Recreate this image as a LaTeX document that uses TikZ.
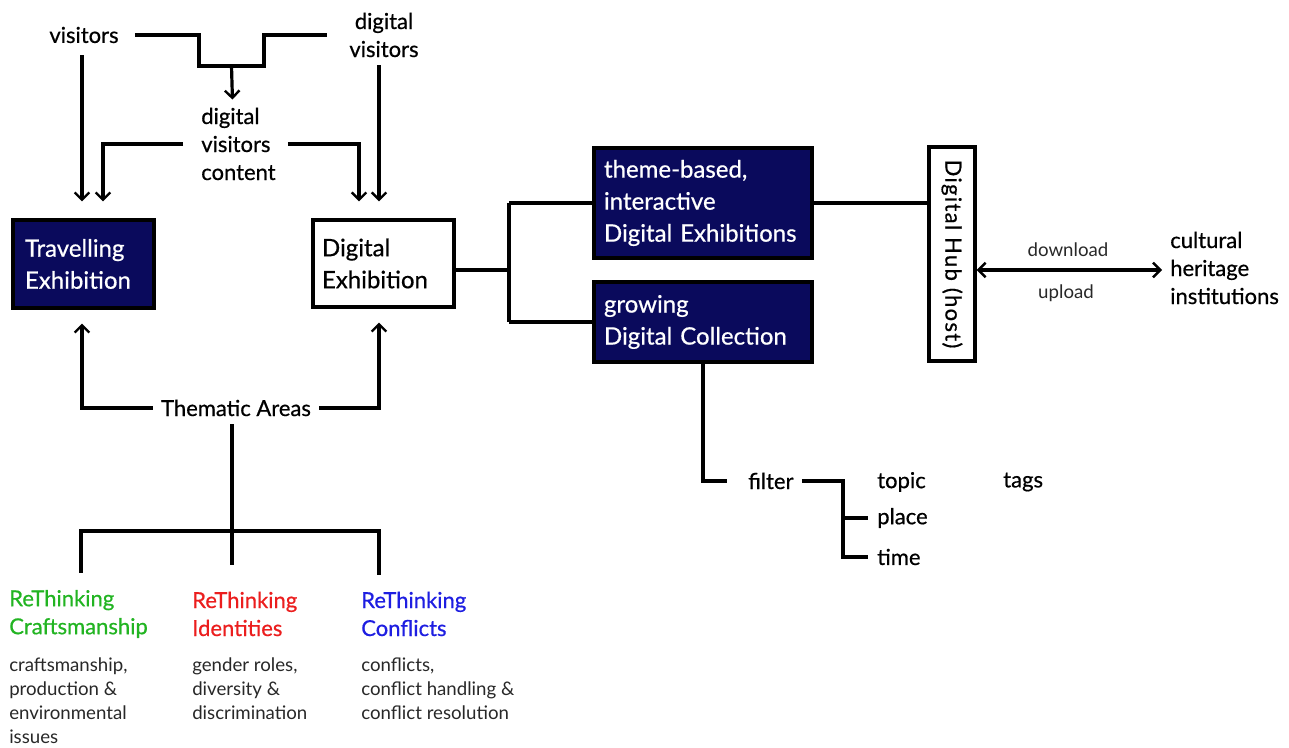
\documentclass[tikz,border=0pt]{standalone}
\usepackage{fontspec}
\setmainfont{Lato}
\newfontfamily\medfont{Lato}[FakeBold=0.6]
\usetikzlibrary{arrows.meta,calc}
\definecolor{navy}{RGB}{10,10,92}
\definecolor{tgreen}{RGB}{34,180,34}
\definecolor{tred}{RGB}{235,30,30}
\definecolor{tblue}{RGB}{30,30,225}
\definecolor{tgrey}{RGB}{40,40,40}
\begin{document}
\begin{tikzpicture}[x=0.75pt,y=-0.75pt,
  ln/.style={line width=2.4pt},
  arr/.style={line width=2.4pt,-{Straight Barb[length=5.5pt,width=11pt,line width=1.8pt]}},
  darr/.style={line width=2.4pt,{Straight Barb[length=5.5pt,width=11pt,line width=1.8pt]}-{Straight Barb[length=5.5pt,width=11pt,line width=1.8pt]}},
  norm/.style={font=\medfont\fontsize{16.5}{21}\selectfont,inner sep=0pt,align=left},
  normc/.style={norm,align=center},
  small/.style={font=\fontsize{14}{18}\selectfont,inner sep=0pt,align=left,text=tgrey},
  darkbox/.style={draw=black,line width=2.4pt,fill=navy,text=white,font=\medfont\fontsize{18}{24}\selectfont,align=left,inner ysep=0pt},
  lightbox/.style={darkbox,fill=white,text=black}]
\useasboundingbox (0,0) rectangle (1289,748);

% top texts
\node[norm] (vis) at (84,35) {visitors};
\node[normc] (dvis) at (384,35) {digital\\visitors};
\node[norm,anchor=west] (dvc) at (201,144) {digital\\visitors\\content};

% boxes
\node[darkbox,text width=87.75pt,inner xsep=9pt,minimum height=66pt] (trav) at (83.5,264) {Travelling\\Exhibition};
\node[lightbox,text width=92.25pt,inner xsep=6.75pt,minimum height=65.25pt] (dexh) at (383.5,263.5) {Digital\\Exhibition};
\node[darkbox,text width=148.5pt,inner xsep=7.5pt,minimum height=82.5pt] (theme) at (703,203) {theme-based,\\interactive\\Digital Exhibitions};
\node[darkbox,text width=148.5pt,inner xsep=7.5pt,minimum height=60pt] (coll) at (703,322) {growing\\Digital Collection};
\node[lightbox,rotate=-90,font=\medfont\fontsize{16.5}{21}\addfontfeature{LetterSpace=6}\selectfont,inner sep=0pt,minimum width=160.5pt,minimum height=34.5pt] (hub) at (952,254) {Digital Hub (host)};

\node[norm,anchor=west] (chi) at (1170,268) {cultural\\heritage\\institutions};
\node[small,text=tgrey] (dl) at (1068,250) {download};
\node[small,text=tgrey] (ul) at (1066,293) {upload};

% filter tree
\node[norm,anchor=west] (filter) at (748,481) {filter};
\node[norm,anchor=west] (topic) at (877,482) {topic};
\node[norm,anchor=west] (place) at (877,518) {place};
\node[norm,anchor=west] (time) at (877,557) {time};
\node[norm,anchor=west] (tags) at (1003,482) {tags};

% thematic areas
\node[norm] (thm) at (236,408) {Thematic Areas};
\node[norm,anchor=west,text=tgreen] (crafts) at (9,614) {ReThinking\\Craftsmanship};
\node[norm,anchor=west,text=tred] (ident) at (192,614) {ReThinking\\Identities};
\node[norm,anchor=west,text=tblue] (confl) at (361,614) {ReThinking\\Conflicts};
\node[small,anchor=west] (dcrafts) at (9,701) {craftsmanship,\\production \&\\environmental\\issues};
\node[small,anchor=west] (dident) at (192,689) {gender roles,\\diversity \&\\discrimination};
\node[small,anchor=west] (dconfl) at (361,689) {conflicts,\\conflict handling \&\\conflict resolution};

% visitors merge
\coordinate (m1) at (199,66);
\coordinate (m2) at (264,66);
\draw[ln] ($(vis.east)+(16,0)$) -| (m1) -- (m2) |- ($(dvis.west)+(-22,0)$);
\draw[arr] ($(m1)!0.5!(m2)$) -- ($(dvc.north)+(-6,-8)$);
\draw[arr] ($(vis.south)+(-2,12)$) -- ($(trav.north)+(-1.5,-17)$);
\draw[arr] ($(dvis.south)+(-5,8)$) -- ($(dexh.north)+(-4.5,-17)$);
\draw[arr] ($(dvc.west)+(-18,0)$) -| ($(trav.north)+(19.5,-17)$);
\draw[arr] ($(dvc.east)+(12,0)$) -| ($(dexh.north)+(-24.5,-17)$);

% digital exhibition to branches
\coordinate (j1) at (509,270);
\draw[ln] (j1 -| dexh.east) -- (j1);
\draw[ln] (j1 |- theme.west) -- (j1 |- coll.west);
\draw[ln] (j1 |- theme.west) -- (theme.west);
\draw[ln] (j1 |- coll.west) -- (coll.west);
\draw[ln] (theme.east) -- (theme.east -| hub.south);
\draw[ln] ($(coll.east)+(0,11)$) -- ($(coll.east)+(0,11)$ -| hub.south);
\draw[darr] ($(hub.north)+(0,16)$) -- ($(chi.west |- hub.north)+(-8,16)$);

% collection filter
\draw[ln] (coll.south) |- ($(filter.west)+(-21,0)$);
\coordinate (fj) at (843,481);
\draw[ln] ($(filter.east)+(8,0)$) -- (fj) -- (fj |- time.west) -- ($(time.west)+(-9,0)$);
\draw[ln] (fj |- place.west) -- ($(place.west)+(-9,0)$);

% thematic arrows
\draw[arr] ($(thm.west)+(-8,0)$) -| ($(trav.south)+(-1.5,14)$);
\draw[arr] ($(thm.east)+(8,0)$) -| ($(dexh.south)+(-4.5,14)$);
\coordinate (tj) at (232,531);
\draw[ln] ($(thm.south)+(-4,8)$) -- ($(tj)+(0,34)$);
\draw[ln] ($(crafts.north west)+(72,-17)$) |- (tj) -| ($(confl.north west)+(18,-17)$);
\end{tikzpicture}
\end{document}
